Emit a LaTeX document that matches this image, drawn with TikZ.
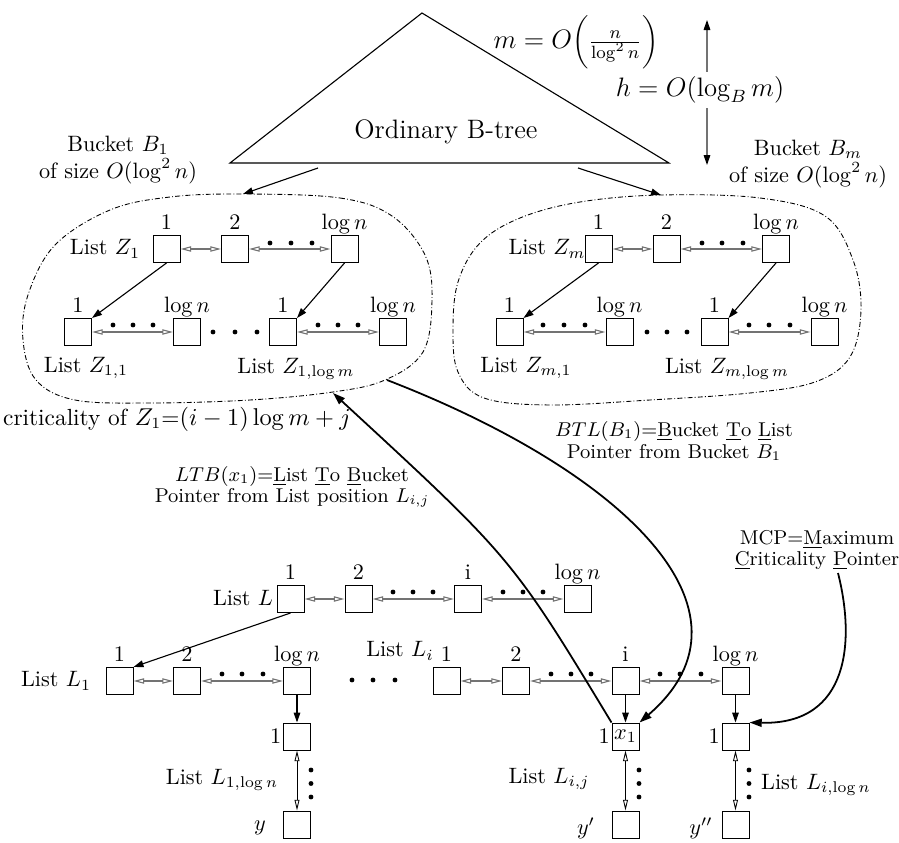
\documentclass[tikz,border=0pt]{standalone}
\usetikzlibrary{arrows.meta}
\begin{document}
\begin{tikzpicture}[x=0.45pt,y=-0.45pt,
  box/.style={draw, line width=0.45pt, minimum size=12.15pt, inner sep=0pt},
  toplab/.style={anchor=base, yshift=2.3pt, inner sep=0pt},
  sidelab/.style={anchor=east, inner sep=0.6pt},
  hdbl/.style={draw=black!55, line width=0.5pt, {Triangle[open,length=4.8pt,width=2.4pt]}-{Triangle[open,length=4.8pt,width=2.4pt]}},
  vdbl/.style={draw=black, line width=0.4pt, {Triangle[open,length=4.8pt,width=2.2pt]}-{Triangle[open,length=4.8pt,width=2.2pt]}},
  parr/.style={line width=0.5pt, -{Triangle[length=4.5pt,width=3pt]}},
  harr/.style={draw=black!55, line width=0.5pt, -{Triangle[length=4.5pt,width=3pt,black]}},
  bigarr/.style={line width=0.8pt, -{Triangle[length=5.5pt,width=3.6pt]}},
  blob/.style={line width=0.4pt, dash pattern=on 2.2pt off 1pt on 0.4pt off 1pt},
  dot/.style={radius=1.1pt},
  note/.style={align=center, font=\fontsize{9}{10.5}\selectfont}
]
\useasboundingbox (0,0) rectangle (899,843);

% ---------- B-tree triangle ----------
\draw[line width=0.5pt] (230,163) -- (422,13) -- (669,163) -- cycle;
\node (bt) at (446,132) {\large Ordinary B-tree};
\node[inner sep=0pt] (mlab) at (576,42) {\large $m=O\biggl(\frac{n}{\log^2 n}\biggr)$};
\node[inner sep=2pt] (hlab) at (700,90) {\large $h=O(\log_B m)$};
\coordinate (htop) at (707,20);
\coordinate (hbot) at (707,165);
\draw[harr] (hlab.north -| htop) -- (htop);
\draw[harr] (hlab.south -| hbot) -- (hbot);

\node[align=center] (bk1) at (118,160) {Bucket $B_1$\\of size $O(\log^2 n)$};
\node[align=center] (bkm) at (808,164) {Bucket $B_m$\\of size $O(\log^2 n)$};

\coordinate (tl) at (318,168);
\coordinate (tr) at (578,168);
\coordinate (b1top) at (243,194);
\coordinate (bmtop) at (661,195);
\draw[parr] (tl) -- (b1top);
\draw[parr] (tr) -- (bmtop);

% ---------- bucket outlines ----------
\draw[blob] plot[smooth cycle, tension=0.6] coordinates {
  (243,194) (340,198) (392,216) (425,255) (432,300) (423,352) (385,380)
  (333,392) (250,400) (150,403) (75,400) (36,380) (23,340) (28,295)
  (55,245) (110,210) (170,197)};
\draw[blob] plot[smooth cycle, tension=0.6] coordinates {
  (661,195) (760,198) (825,216) (853,260) (861,310) (850,357) (815,382)
  (750,393) (650,400) (550,405) (484,398) (458,372) (453,330) (458,282)
  (480,243) (520,218) (580,202)};

% ---------- bucket 1 ----------
\node[box] (A1) at (166.5,249) {};
\node[box] (A2) at (235,249) {};
\node[box] (A3) at (344.5,249) {};
\node[box] (B1) at (78,332) {};
\node[box] (B2) at (187,332) {};
\node[box] (B3) at (283,332) {};
\node[box] (B4) at (393,332) {};
\node[toplab] at (A1.north) {1};
\node[toplab] at (A2.north) {2};
\node[toplab] at (A3.north) {$\log n$};
\node[toplab] at (B1.north) {1};
\node[toplab] at (B2.north) {$\log n$};
\node[toplab] at (B3.north) {1};
\node[toplab] at (B4.north) {$\log n$};
\node (lz1) at (105,249) {List $Z_1$};
\node (lz11) at (86,368) {List $Z_{1,1}$};
\node (lz1m) at (296,369) {List $Z_{1,\log m}$};
\draw[hdbl] (A1) -- (A2);
\draw[hdbl] (A2) -- (A3);
\draw[hdbl] (B1) -- (B2);
\draw[hdbl] (B3) -- (B4);
\draw[parr] (A1.south) -- (B1.north east);
\draw[parr] (A3.south) -- (B3.north east);
\foreach \x/\y in {270/243,291/243,312/243, 113/325,133/325,153/325,
  213/332,235/332,257/332, 318/325,338/325,358/325}
  \fill (\x,\y) circle[dot];

% ---------- bucket m ----------
\node[box] (C1) at (598.5,249) {};
\node[box] (C2) at (666.5,249) {};
\node[box] (C3) at (776,249) {};
\node[box] (D1) at (509.5,332) {};
\node[box] (D2) at (619.5,332) {};
\node[box] (D3) at (714.5,332) {};
\node[box] (D4) at (824.5,332) {};
\node[toplab] at (C1.north) {1};
\node[toplab] at (C2.north) {2};
\node[toplab] at (C3.north) {$\log n$};
\node[toplab] at (D1.north) {1};
\node[toplab] at (D2.north) {$\log n$};
\node[toplab] at (D3.north) {1};
\node[toplab] at (D4.north) {$\log n$};
\node (lzm) at (547,249) {List $Z_m$};
\node (lzm1) at (526,368) {List $Z_{m,1}$};
\node (lzmm) at (727,369) {List $Z_{m,\log m}$};
\draw[hdbl] (C1) -- (C2);
\draw[hdbl] (C2) -- (C3);
\draw[hdbl] (D1) -- (D2);
\draw[hdbl] (D3) -- (D4);
\draw[parr] (C1.south) -- (D1.north east);
\draw[parr] (C3.south) -- (D3.north east);
\foreach \x/\y in {702/243,722/243,743/243, 543/325,564/325,585/325,
  647/332,667/332,687/332, 749/325,769/325,790/325}
  \fill (\x,\y) circle[dot];

\node[font=\fontsize{10.5}{12}\selectfont] (crit) at (177,419) {criticality of $Z_1$=$(i-1)\log m+j$};

% ---------- pointer labels ----------
\node[note] (ltb) at (292,487) {$LTB(x_1)$=\underline{L}ist \underline{T}o \underline{B}ucket\\[-1pt]Pointer from List position $L_{i,j}$};
\node[note] (btl) at (674,441) {$BTL(B_1)$=\underline{B}ucket \underline{T}o \underline{L}ist\\[-0.5pt]Pointer from Bucket $B_1$};
\node[note] (mcp) at (817,550) {MCP=\underline{M}aximum\\[-1pt]\underline{C}riticality \underline{P}ointer};

% ---------- list L ----------
\node[box] (L1) at (290.5,599) {};
\node[box] (L2) at (358.5,599) {};
\node[box] (Li) at (468,599) {};
\node[box] (Ln) at (577.5,599) {};
\node[toplab] at (L1.north) {1};
\node[toplab] at (L2.north) {2};
\node[toplab] at (Li.north) {i};
\node[toplab] at (Ln.north) {$\log n$};
\node (ll) at (243,598) {List $L$};
\draw[hdbl] (L1) -- (L2);
\draw[hdbl] (L2) -- (Li);
\draw[hdbl] (Li) -- (Ln);
\foreach \x/\y in {393/592,413/592,433/592, 503/592,523/592,543/592}
  \fill (\x,\y) circle[dot];

% ---------- list L_1 ----------
\node[box] (P1) at (119.5,681) {};
\node[box] (P2) at (187,681) {};
\node[box] (P3) at (297,681) {};
\node[toplab] at (P1.north) {1};
\node[toplab] at (P2.north) {2};
\node[toplab] at (P3.north) {$\log n$};
\node (ll1) at (56,681) {List $L_1$};
\draw[hdbl] (P1) -- (P2);
\draw[hdbl] (P2) -- (P3);
\draw[parr] (L1.south) -- (P1.north east);

% ---------- list L_i ----------
\node[box] (Q1) at (446.5,681) {};
\node[box] (Q2) at (516,681) {};
\node[box] (Q3) at (625.5,681) {};
\node[box] (Q4) at (735.5,681) {};
\node[toplab] at (Q1.north) {1};
\node[toplab] at (Q2.north) {2};
\node[toplab] at (Q3.north) {i};
\node[toplab] at (Q4.north) {$\log n$};
\node (lli) at (400,651) {List $L_i$};
\draw[hdbl] (Q1) -- (Q2);
\draw[hdbl] (Q2) -- (Q3);
\draw[hdbl] (Q3) -- (Q4);
\foreach \x/\y in {222/674,242/674,263/674, 352/680,373/680,395/680,
  551/674,571/674,591/674, 660/674,680/674,701/674}
  \fill (\x,\y) circle[dot];

% ---------- sub lists ----------
\node[box] (R1) at (297,736.5) {};
\node[box] (R2) at (297,824.5) {};
\node[box] (S1) at (625.5,736.5) {$x_1$};
\node[box] (S2) at (625.5,824.5) {};
\node[box] (T1) at (735.5,736.5) {};
\node[box] (T2) at (735.5,824.5) {};
\node[sidelab] at (R1.west) {1};
\node[sidelab] at (S1.west) {1};
\node[sidelab] at (T1.west) {1};
\node (ly) at (260,828) {$y$};
\node (lyp) at (586,828) {$y'$};
\node (lypp) at (701,828) {$y''$};
\draw[parr] (P3) -- (R1);
\draw[parr] (Q3) -- (S1);
\draw[parr] (Q4) -- (T1);
\draw[vdbl] (R1) -- (R2);
\draw[vdbl] (S1) -- (S2);
\draw[vdbl] (T1) -- (T2);
\foreach \x in {311,639,749}
  \foreach \y in {770,783.5,797}
    \fill (\x,\y) circle[dot];
\node (ll1n) at (222,780) {List $L_{1,\log n}$};
\node (llij) at (549,779) {List $L_{i,j}$};
\node (llin) at (816,785) {List $L_{i,\log n}$};

% ---------- long pointers ----------
\coordinate (ltbend) at (333,393);
\coordinate (btlstart) at (387,380);
\coordinate (mcpstart) at (838,573);
\draw[bigarr] (S1.north west) .. controls (512,558) .. (ltbend);
\draw[bigarr] (btlstart) .. controls (620,470) and (770,610) .. (S1.north east);
\draw[bigarr] (mcpstart) .. controls (855,640) and (850,725) .. (T1.north east);
\end{tikzpicture}
\end{document}
